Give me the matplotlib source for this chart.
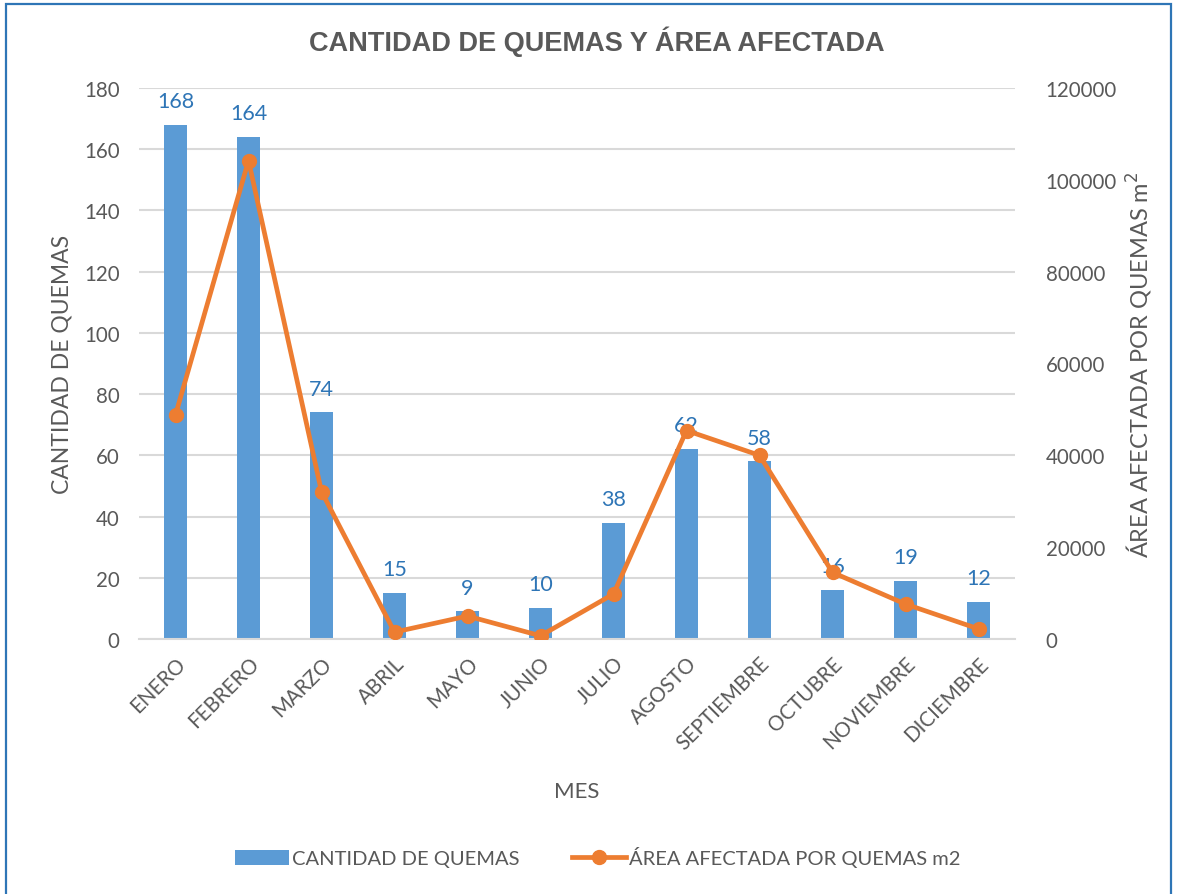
import matplotlib
matplotlib.use("Agg")
import matplotlib.pyplot as plt
from matplotlib.lines import Line2D
from matplotlib.patches import Rectangle, Patch
import numpy as np

meses = ["ENERO", "FEBRERO", "MARZO", "ABRIL", "MAYO", "JUNIO", "JULIO",
         "AGOSTO", "SEPTIEMBRE", "OCTUBRE", "NOVIEMBRE", "DICIEMBRE"]
cantidad_quemas = [168, 164, 74, 15, 9, 10, 38, 62, 58, 16, 19, 12]
area_afectada = [48800, 104200, 32100, 1500, 5000, 700, 9800,
                 45400, 40000, 14500, 7600, 2200]

left_ticks = list(range(0, 181, 20))
right_ticks = list(range(0, 120001, 20000))

BLUE = "#5B9BD5"
ORANGE = "#ED7D31"
LABEL_BLUE = "#2E75B6"
GREY = "#595959"
GRID = "#D9D9D9"

plt.rcParams["font.family"] = ["Lato", "DejaVu Sans"]

fig = plt.figure(figsize=(11.77, 8.95), dpi=100)
fig.patch.set_facecolor("white")

# chart frame
fig.add_artist(Rectangle((6 / 1177, -0.01), (1171 - 6) / 1177, 1 - 5 / 895 + 0.01,
                         transform=fig.transFigure, fill=False,
                         edgecolor="#2E75B6", linewidth=1.6, zorder=0))

ax = fig.add_axes([139 / 1177, 1 - 640 / 895, (1015 - 139) / 1177, (640 - 89) / 895])
ax2 = ax.twinx()

x = np.arange(len(meses))
ax.bar(x, cantidad_quemas, width=0.31, color=BLUE, zorder=2)
for xi, v in zip(x, cantidad_quemas):
    ax.annotate(str(v), (xi, v), xytext=(0, 10), textcoords="offset points",
                ha="center", va="bottom", color=LABEL_BLUE, fontsize=15.5)

ax.set_xlim(-0.5, len(meses) - 0.5)
ax.set_ylim(0, 180)
ax.set_yticks(left_ticks)
ax.yaxis.grid(True, color=GRID, linewidth=1.5)
ax.set_axisbelow(True)
for s in ["top", "right", "left"]:
    ax.spines[s].set_visible(False)
ax.spines["bottom"].set_color(GRID)
ax.spines["bottom"].set_linewidth(1.5)
ax.tick_params(axis="both", length=0, colors=GREY, labelsize=14.8)
ax.tick_params(axis="y", pad=14)
ax.set_xticks(x)
ax.set_xticklabels(meses, rotation=45, ha="right", rotation_mode="anchor")
ax.tick_params(axis="x", pad=10)
ax.set_ylabel("CANTIDAD DE QUEMAS", color=GREY, fontsize=16.5, labelpad=8)
ax.set_xlabel("MES", color=GREY, fontsize=16, labelpad=20)

ax2.plot(x, area_afectada, color=ORANGE, linewidth=3.4, marker="o",
         markersize=10, zorder=3)
ax2.set_ylim(0, 120000)
ax2.set_yticks(right_ticks)
for s in ["top", "right", "left", "bottom"]:
    ax2.spines[s].set_visible(False)
ax2.tick_params(axis="y", length=0, colors=GREY, labelsize=14.8, pad=22)
ax2.set_ylabel("ÁREA AFECTADA POR QUEMAS m$^2$", color=GREY, fontsize=17,
               labelpad=6)

fig.text(0.507, 1 - 42 / 895, "CANTIDAD DE QUEMAS Y ÁREA AFECTADA",
         ha="center", va="center", fontsize=19.5, fontweight="bold",
         color=GREY, family="Liberation Sans")

handles = [Patch(facecolor=BLUE, edgecolor="none"),
           Line2D([0], [0], color=ORANGE, linewidth=3.4, marker="o", markersize=10)]
fig.legend(handles, ["CANTIDAD DE QUEMAS", "ÁREA AFECTADA POR QUEMAS m2"],
           loc="center", bbox_to_anchor=(0.508, 1 - 858 / 895), ncol=2,
           frameon=False, fontsize=14.5, labelcolor=GREY, handlelength=2.7,
           handleheight=0.8, columnspacing=2.6, handletextpad=0.15)

fig.savefig("out.png", dpi=100, facecolor="white")
